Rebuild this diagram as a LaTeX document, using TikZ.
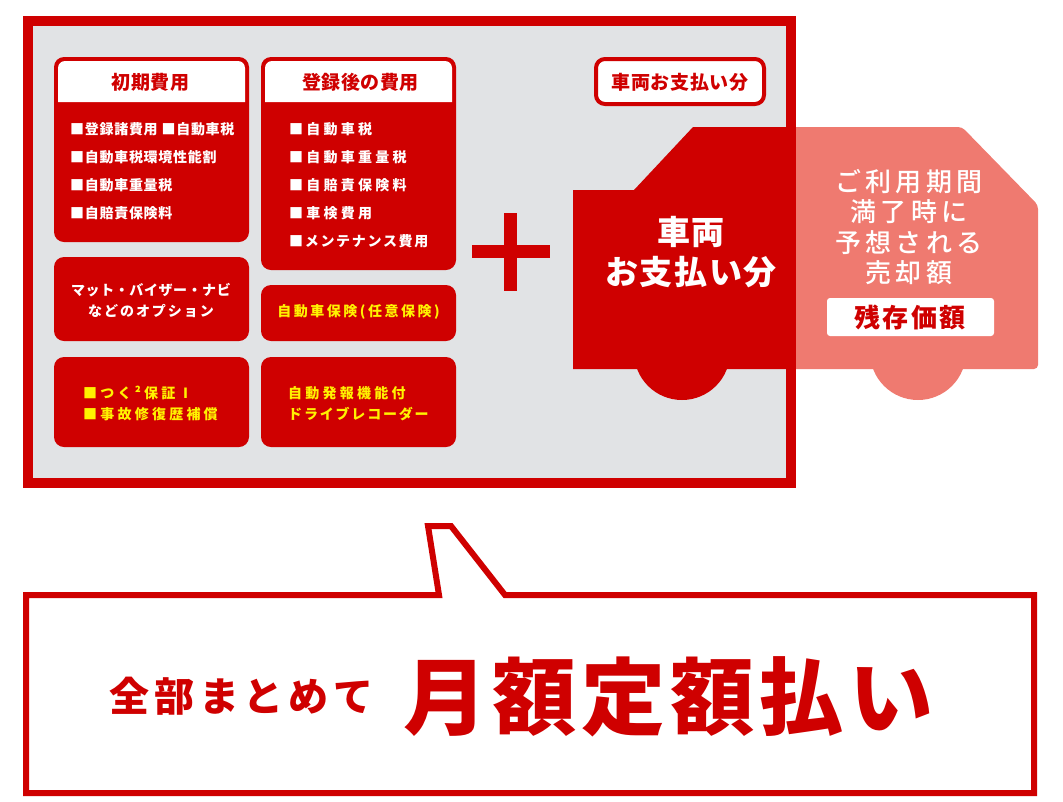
\documentclass[tikz,border=0pt]{standalone}
\usepackage{fontspec}
\setmainfont{Noto Sans CJK JP}
\newfontfamily\heavyfont{Noto Sans CJK JP Black}
\newfontfamily\mediumfont{Noto Sans CJK JP Medium}
\definecolor{carred}{HTML}{CF0000}
\definecolor{carpink}{HTML}{EF7A70}
\definecolor{panelgray}{HTML}{E1E3E5}
\definecolor{optyellow}{HTML}{FFF200}
\newcommand{\txt}[2]{\fontsize{#1}{#1}\selectfont\bfseries\addfontfeature{LetterSpace=#2}}
\newcommand{\medtxt}[2]{\fontsize{#1}{#1}\mediumfont\addfontfeature{LetterSpace=#2}}
\tikzset{
  costhead/.style={text=carred, font=\fontsize{19}{19}\heavyfont\addfontfeature{LetterSpace=3}},
  costitem/.style={text=white, anchor=west, inner sep=0pt, font=\txt{14}{5}},
  costwide/.style={text=white, anchor=west, inner sep=0pt, font=\txt{14}{23}},
  optitem/.style={text=optyellow, anchor=west, inner sep=0pt, font=\txt{14}{23}},
  pinktxt/.style={text=white, font=\medtxt{26}{16}},
}
\begin{document}
\begin{tikzpicture}[x=1pt,y=-1pt]
  \useasboundingbox (0,0) rectangle (1063,801);

  % Gray panel
  \fill[panelgray] (28,21) rectangle (791,483);

  % Cost boxes
  \fill[carred, rounded corners=10] (54,57) rectangle (249,242);
  \fill[white] (58,102) [rounded corners=7] -- (58,61) -- (245,61) [sharp corners] -- (245,102) -- cycle;
  \fill[carred, rounded corners=10] (261,57) rectangle (456,270);
  \fill[white] (265,102) [rounded corners=7] -- (265,61) -- (452,61) [sharp corners] -- (452,102) -- cycle;
  \fill[carred, rounded corners=10] (54,257) rectangle (249,341);
  \fill[carred, rounded corners=10] (261,285) rectangle (456,341);
  \fill[carred, rounded corners=10] (54,357) rectangle (249,447);
  \fill[carred, rounded corners=10] (261,357) rectangle (456,447);

  \node[costhead] (initial) at (150.5,82) {初期費用};
  \node[costhead] (later) at (360.5,82) {登録後の費用};

  % First column
  \node[costitem] (itemA) at (70,129) {■登録諸費用 ■自動車税};
  \node[costitem] (itemB) at (70,157) {■自動車税環境性能割};
  \node[costitem] (itemC) at (70,185) {■自動車重量税};
  \node[costitem] (itemD) at (70,213) {■自賠責保険料};

  % Second column
  \node[costwide] (itemE) at (289,129) {■自動車税};
  \node[costwide] (itemF) at (289,157) {■自動車重量税};
  \node[costwide] (itemG) at (289,185) {■自賠責保険料};
  \node[costwide] (itemH) at (289,213) {■車検費用};
  \node[costwide, font=\txt{14}{12}] (itemI) at (289,241) {■メンテナンス費用};

  % Options
  \node[text=white, inner sep=0pt, font=\txt{14}{4}] (optionA) at (151,290) {マット・バイザー・ナビ};
  \node[text=white, inner sep=0pt, font=\txt{14}{14}] (optionB) at (151,311) {などのオプション};
  \node[text=optyellow, inner sep=0pt, font=\txt{14}{18}] (insure) at (358.5,312) {自動車保険(任意保険)};
  \node[optitem] (careA) at (83,393) {■つく²保証Ⅰ};
  \node[optitem] (careB) at (83,414) {■事故修復歴補償};
  \node[optitem] (recA) at (288,393) {自動発報機能付};
  \node[optitem, font=\txt{14}{13}] (recB) at (288,414) {ドライブレコーダー};

  % Plus sign
  \fill[carred] (472,245) rectangle (550,258);
  \fill[carred] (504,213) rectangle (517,291);

  % Payment label
  \draw[carred, line width=4pt, fill=white, rounded corners=9] (596,59) rectangle (764,104);
  \node[costhead] (paylabel) at (680,82) {車両お支払い分};

  % Car, red half
  \fill[carred] (682,352) circle (48);
  \fill[carred] (573,190) -- (634,190) -- (693,127) -- (790,127) -- (790,369) -- (573,369) -- cycle;

  % Car, pink half
  \fill[carpink] (918,352) circle (48);
  \fill[carpink] (796,127) [rounded corners=4] -- (962,127) -- (1038,205) -- (1038,369) [sharp corners] -- (796,369) -- cycle;

  % Panel frame
  \draw[carred, line width=10pt] (28,21) rectangle (791,483);

  \node[text=white, inner sep=0pt, font=\txt{33}{5}] (payA) at (691,232) {車両};
  \node[text=white, inner sep=0pt, font=\txt{33}{5}] (payB) at (691,272) {お支払い分};
  \node[pinktxt] (useA) at (909,182) {ご利用期間};
  \node[pinktxt] (useB) at (909,212) {満了時に};
  \node[pinktxt] (useC) at (909,243) {予想される};
  \node[pinktxt] (useD) at (909,273) {売却額};
  \fill[white, rounded corners=3] (827,298) rectangle (994,336);
  \node[text=carred, font=\txt{26}{8}] (residual) at (910,317) {残存価額};

  % Speech box
  \draw[carred, line width=6pt, fill=white, line join=miter] (439,595) -- (428,526) -- (451,526) -- (505,595) -- (1034,595) -- (1034,793) -- (26,793) -- (26,595) -- cycle;
  \node[text=carred, font=\txt{40}{12}] (together) at (241.5,696) {全部まとめて};
  \node[text=carred, font=\txt{84}{6}] (monthly) at (668.5,697) {月額定額払い};
\end{tikzpicture}
\end{document}
